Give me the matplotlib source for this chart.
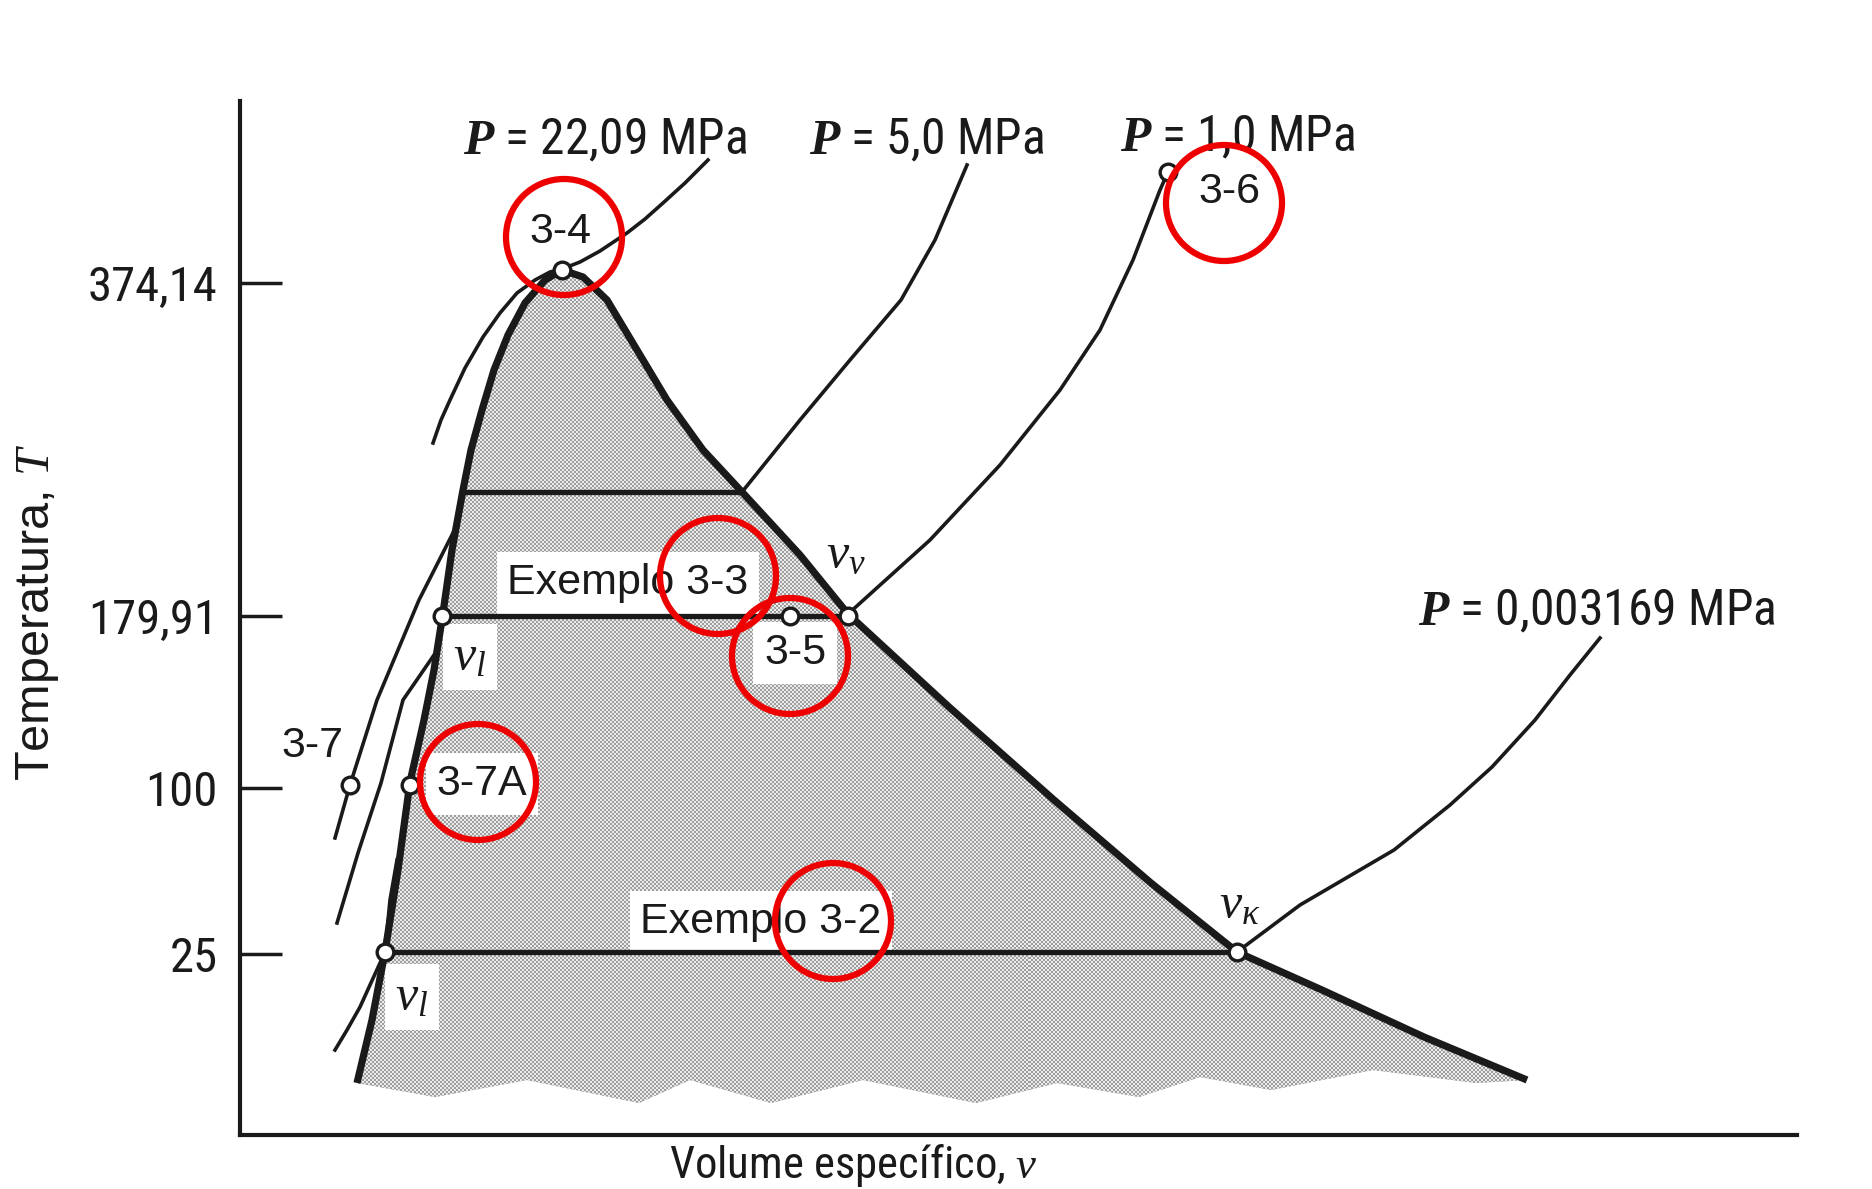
import numpy as np
import matplotlib
matplotlib.use('Agg')
import matplotlib.pyplot as plt
from matplotlib.patches import Circle, Polygon
from matplotlib import font_manager as fm

plt.rcParams['font.family'] = ['Liberation Sans', 'DejaVu Sans']
plt.rcParams['mathtext.fontset'] = 'custom'
plt.rcParams['mathtext.it'] = 'Liberation Serif:italic'
plt.rcParams['mathtext.bf'] = 'Liberation Serif:italic:bold'
plt.rcParams['mathtext.rm'] = 'Liberation Sans'

INK = '#1a1a1a'

# schematic T-v diagram, axis units are arbitrary (v to the right, T upwards)
# saturated liquid line, from the critical point down
liq_v = [322, 305, 285, 268, 254, 242, 231, 223, 212, 203, 194, 184, 170, 158, 145, 132, 117]
liq_T = [865, 855, 832, 800, 765, 725, 685, 645, 585, 522, 465, 415, 353, 265, 183, 115, 52]
# saturated vapour line, from the critical point down
vap_v = [322, 343, 367, 397, 427, 463, 502, 560, 608, 709, 814, 911, 997, 1082, 1184, 1287]
vap_T = [865, 858, 835, 785, 735, 685, 643, 580, 521, 428, 335, 252, 183, 145, 98, 55]
# ragged lower edge of the shaded two-phase region
edge_v = [117, 195, 287, 399, 450, 531, 623, 736, 817, 899, 960, 1031, 1133, 1236, 1287]
edge_T = [52, 38, 55, 32, 55, 32, 55, 32, 52, 38, 58, 45, 65, 52, 55]

# horizontal isobars inside the dome
tie_T = [183, 519, 643]
tie_vl = [145, 203, 223]
tie_vv = [997, 608, 502]

# isobars outside the dome
p2209_v = [193, 201, 210, 225, 243, 260, 277, 295, 310, 322, 340, 360, 387, 405, 423, 445, 468]
p2209_T = [692, 715, 735, 767, 798, 822, 842, 855, 863, 866, 873, 884, 902, 916, 932, 952, 975]
p50_v = [502, 560, 610, 661, 695, 727]
p50_T = [643, 715, 775, 835, 895, 970]
p10_v = [608, 690, 760, 820, 860, 893, 920, 928]
p10_T = [521, 595, 670, 745, 805, 875, 945, 963]
p0003_v = [997, 1060, 1154, 1210, 1252, 1295, 1330, 1360]
p0003_T = [183, 230, 285, 330, 368, 415, 460, 497]
# compressed liquid isobars left of the dome
liqA_v = [216, 179, 137, 110, 95]
liqA_T = [608, 535, 435, 350, 297]
liqB_v = [194, 163, 141, 118, 97]
liqB_T = [480, 435, 352, 282, 212]
liqC_v = [157, 150, 145, 130, 120, 107, 95]
liqC_T = [275, 235, 183, 150, 128, 105, 85]

# state points (open circles)
pt_v = [322, 202, 550, 608, 110, 170, 145, 997, 928]
pt_T = [865, 519, 519, 519, 350, 350, 183, 183, 963]

# red highlight rings
ring_v = [324, 984, 478, 550, 238, 593]
ring_T = [898, 932, 559, 479, 353, 214]
ring_r = 58

# temperature ticks
T_ticks = [181, 347, 519, 852]
T_labels = ['25', '100', '179,91', '374,14']

# isobar labels
P_labels = [r'$\mathbf{P}$ = 22,09 MPa', r'$\mathbf{P}$ = 5,0 MPa',
            r'$\mathbf{P}$ = 1,0 MPa', r'$\mathbf{P}$ = 0,003169 MPa']
P_v = [223, 569, 880, 1178]
P_T = [995, 995, 998, 524]

# boxed labels inside the dome
box_text = ['Exemplo 3-3', '3-5', 'Exemplo 3-2', '3-7A']
box_v = [388, 555, 521, 242]
box_T = [552, 482, 213, 351]

# plain labels
plain_text = ['3-4', '3-6', '3-7']
plain_v = [320, 989, 72]
plain_T = [903, 943, 389]


def narrow_font():
    entries = fm.fontManager.ttflist
    names = {f.name for f in entries}
    for cand in ['Liberation Sans Narrow', 'Roboto Condensed', 'Noto Sans Condensed',
                 'Open Sans Condensed', 'DejaVu Sans Condensed', 'Arial Narrow']:
        if cand in names:
            return fm.FontProperties(family=[cand, 'DejaVu Sans'])
    for fam in ['Roboto', 'Noto Sans', 'Open Sans', 'DejaVu Sans', 'Liberation Sans']:
        for f in entries:
            if f.name == fam and str(f.stretch) in ('condensed', 'semi-condensed', 'extra-condensed'):
                return fm.FontProperties(family=[fam], stretch=f.stretch)
    return fm.FontProperties(family=['Liberation Sans', 'DejaVu Sans'])


fig = plt.figure(figsize=(18.72, 11.89), dpi=100)
renderer = fig.canvas.get_renderer()
NARROW = narrow_font()


def fitted(s, target_px, cap):
    fp = NARROW.copy()
    fp.set_size(100)
    t = fig.text(0, 0, s, fontproperties=fp)
    w = t.get_window_extent(renderer).width
    t.remove()
    fp.set_size(min(cap, 100 * target_px / w))
    return fp


tick_fp = fitted('374,14', 130, 37)
P_fp = fitted(P_labels[0], 283, 38)
xlab_fp = fitted(r'Volume específico, $\nu$', 367, 35)

ax = fig.add_axes([240 / 1872, 54 / 1189, 1557 / 1872, 1034 / 1189])

# shaded two-phase region with a halftone texture
dome_xy = list(zip(liq_v, liq_T)) + list(zip(edge_v, edge_T))[1:-1] + list(zip(vap_v, vap_T))[::-1]
dome = Polygon(dome_xy, closed=True, facecolor='#b8b8b8', edgecolor='none', zorder=1)
ax.add_patch(dome)
ny, nx = 1034 // 2, 1557 // 2
yy, xx = np.mgrid[0:ny, 0:nx]
checker = 0.62 + 0.3 * ((xx + yy) % 2)
im = ax.imshow(checker, cmap='gray', vmin=0, vmax=1, extent=(0, 1557, 0, 1034),
               origin='lower', interpolation='nearest', zorder=1.5)
im.set_clip_path(dome)

# saturation lines
ax.plot(liq_v, liq_T, color=INK, lw=5.2, solid_capstyle='butt', solid_joinstyle='round', zorder=4)
ax.plot(vap_v, vap_T, color=INK, lw=5.2, solid_capstyle='butt', solid_joinstyle='round', zorder=4)
for t, a, b in zip(tie_T, tie_vl, tie_vv):
    ax.plot([a, b], [t, t], color=INK, lw=3.8, zorder=4)

for xs, ys in [(p2209_v, p2209_T), (p50_v, p50_T), (p10_v, p10_T), (p0003_v, p0003_T),
               (liqA_v, liqA_T), (liqB_v, liqB_T), (liqC_v, liqC_T)]:
    ax.plot(xs, ys, color=INK, lw=2.6, solid_joinstyle='round', zorder=4)

ax.plot(pt_v, pt_T, 'o', ms=12, mfc='white', mec=INK, mew=2.4, ls='none', zorder=5)

for s, x, y in zip(P_labels, P_v, P_T):
    ax.text(x, y, s, fontproperties=P_fp, ha='left', va='center', color=INK, zorder=6)

for s, x, y in zip(box_text, box_v, box_T):
    ax.text(x, y, s, fontsize=31, ha='center', va='center', color=INK, zorder=3,
            bbox=dict(boxstyle='square,pad=0.25', fc='white', ec='none'))

for s, x, y in zip(plain_text, plain_v, plain_T):
    ax.text(x, y, s, fontsize=31, ha='center', va='center', color=INK, zorder=6)

# specific volume labels
ax.text(230, 478, r'$\nu_l$', fontsize=36, ha='center', va='center', color=INK, zorder=3,
        bbox=dict(boxstyle='square,pad=0.2', fc='white', ec='none'))
ax.text(172, 138, r'$\nu_l$', fontsize=36, ha='center', va='center', color=INK, zorder=3,
        bbox=dict(boxstyle='square,pad=0.2', fc='white', ec='none'))
ax.text(606, 580, r'$\nu_\nu$', fontsize=36, ha='center', va='center', color=INK, zorder=6)
ax.text(1000, 230, r'$\nu_\kappa$', fontsize=36, ha='center', va='center', color=INK, zorder=6)

for x, y in zip(ring_v, ring_T):
    ax.add_patch(Circle((x, y), ring_r, fill=False, ec='#ee0000', lw=4.5, zorder=8))

ax.set_xlim(0, 1557)
ax.set_ylim(0, 1034)
ax.set_aspect('auto')
for side in ['top', 'right']:
    ax.spines[side].set_visible(False)
for side in ['left', 'bottom']:
    ax.spines[side].set_linewidth(3)
    ax.spines[side].set_color(INK)
ax.set_xticks([])
ax.set_yticks(T_ticks)
ax.set_yticklabels(T_labels, fontproperties=tick_fp, color=INK)
ax.tick_params(axis='y', direction='in', length=30, width=2.5, pad=16, color=INK)

fig.text(853 / 1872, 1 - 1178 / 1189, r'Volume específico, $\nu$', fontproperties=xlab_fp,
         ha='center', va='baseline', color=INK)
fig.text(38 / 1872, 1 - 612 / 1189, r'Temperatura, $\mathit{T}$', rotation=90, fontsize=35,
         ha='center', va='center', color=INK)

fig.savefig('out.png', dpi=100, facecolor='white')
